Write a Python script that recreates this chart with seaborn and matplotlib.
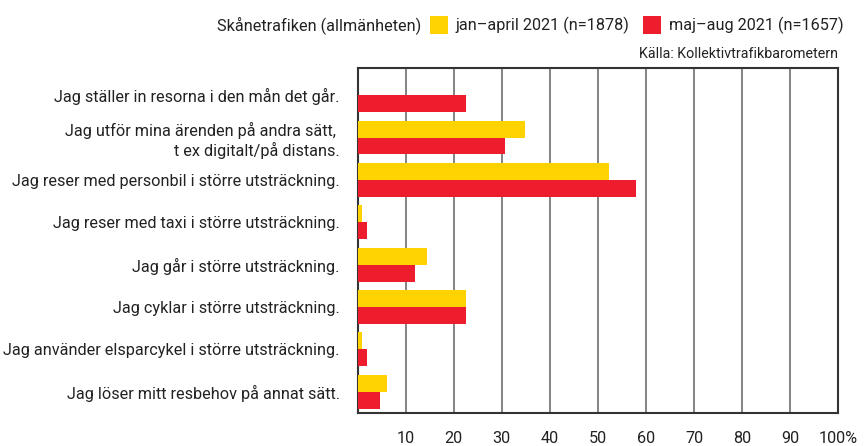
import numpy as np
import pandas as pd
import matplotlib
matplotlib.use("Agg")
import matplotlib.pyplot as plt
from matplotlib.patches import Patch
import seaborn as sns

sns.set_style("white")
plt.rcParams['font.family'] = ['Roboto', 'DejaVu Sans']

# svarsalternativ
labels = [
    "Jag ställer in resorna i den mån det går.",
    "Jag utför mina ärenden på andra sätt, \nt ex digitalt/på distans.",
    "Jag reser med personbil i större utsträckning.",
    "Jag reser med taxi i större utsträckning.",
    "Jag går i större utsträckning.",
    "Jag cyklar i större utsträckning.",
    "Jag använder elsparcykel i större utsträckning.",
    "Jag löser mitt resbehov på annat sätt.",
]
periods = ["jan–april 2021 (n=1878)", "maj–aug 2021 (n=1657)"]
jan_apr = [np.nan, 34.8, 52.3, 1.0, 14.4, 22.5, 1.0, 6.0]
maj_aug = [22.5, 30.6, 57.9, 1.9, 11.9, 22.5, 1.9, 4.6]
colors = ["#FED300", "#EE1D2D"]
xticks = [10, 20, 30, 40, 50, 60, 70, 80, 90, 100]
xticklabels = ["10", "20", "30", "40", "50", "60", "70", "80", "90", "100%"]

df = pd.DataFrame({
    "label": labels * 2,
    "period": [periods[0]] * len(labels) + [periods[1]] * len(labels),
    "value": jan_apr + maj_aug,
})

fs = 11.7
fs_small = 10.3

fig = plt.figure(figsize=(8.64, 4.46), dpi=100)
ax = fig.add_axes([0.414, 0.074, 0.556, 0.7735])

sns.barplot(data=df, y="label", x="value", hue="period", palette=colors,
            orient="h", width=0.8, saturation=1, errorbar=None, ax=ax,
            legend=False, zorder=3, linewidth=0, edgecolor="none")

ax.set_xlim(0, 100)
ax.set_ylim(7.5, -0.64)
ax.set_xticks(xticks)
ax.set_xticklabels(xticklabels)
ax.set_xlabel("")
ax.set_ylabel("")
ax.grid(axis="x", color="#7a7a7a", linewidth=1.3, zorder=0)
ax.tick_params(axis="both", length=0, labelsize=fs, colors="#222222")
ax.tick_params(axis="x", pad=13)
ax.tick_params(axis="y", pad=13)
for s in ax.spines.values():
    s.set_color("#333333")
    s.set_linewidth(1.5)

# legend + rubrik
handles = [Patch(facecolor=c, edgecolor="none") for c in colors]
leg = fig.legend(handles, periods, loc="center right", bbox_to_anchor=(0.976, 0.944),
                 ncol=2, frameon=False, fontsize=fs, handlelength=1.1,
                 handleheight=1.3, handletextpad=0.5, columnspacing=0.8,
                 borderpad=0, borderaxespad=0, labelcolor="#222222")
fig.canvas.draw()
bb = leg.get_window_extent().transformed(fig.transFigure.inverted())
fig.text(bb.x0 - 0.01, 0.944, "Skånetrafiken (allmänheten)", fontsize=fs,
         color="#222222", va="center", ha="right")
fig.text(0.970, 0.879, "Källa: Kollektivtrafikbarometern", fontsize=fs_small,
         color="#222222", va="center", ha="right")

fig.savefig("out.png", dpi=100)
